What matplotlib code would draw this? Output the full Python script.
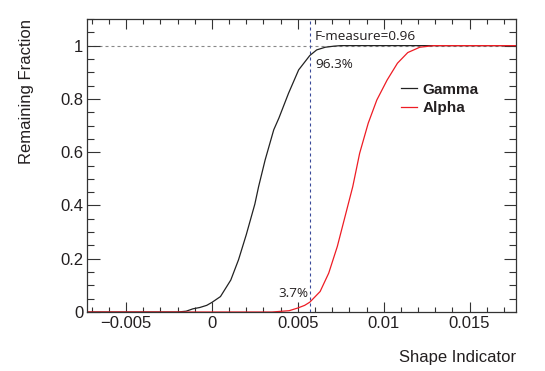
import numpy as np
import matplotlib
matplotlib.use("Agg")
import matplotlib.pyplot as plt
from matplotlib.ticker import MultipleLocator, FuncFormatter

# cumulative fraction curves
gamma_x = [-0.00725, -0.0020, -0.0015, -0.0011, -0.0007, -0.0003, 0.0, 0.0005,
           0.0011, 0.00155, 0.0020, 0.0025, 0.00272, 0.0031, 0.0036, 0.0039,
           0.00446, 0.00505, 0.0057, 0.0061, 0.0066, 0.0071, 0.0075, 0.0177]
gamma_y = [0.0, 0.0, 0.003, 0.012, 0.017, 0.025, 0.036, 0.058,
           0.12, 0.196, 0.29, 0.405, 0.471, 0.571, 0.684, 0.728,
           0.821, 0.909, 0.963, 0.984, 0.994, 0.998, 1.0, 1.0]

alpha_x = [-0.00725, 0.0035, 0.0045, 0.0050, 0.0054, 0.0057, 0.0063, 0.0068,
           0.0073, 0.0077, 0.0082, 0.0086, 0.0091, 0.0096, 0.0102, 0.0108,
           0.0114, 0.0121, 0.0129, 0.0177]
alpha_y = [0.0, 0.0, 0.005, 0.015, 0.025, 0.037, 0.077, 0.146,
           0.246, 0.346, 0.471, 0.596, 0.709, 0.796, 0.871, 0.934,
           0.974, 0.994, 1.0, 1.0]

x_cut = 0.0057
f_measure = 0.96
gamma_kept = 96.3
alpha_kept = 3.7

x_ticks = [-0.005, 0, 0.005, 0.01, 0.015]
y_ticks = [0, 0.2, 0.4, 0.6, 0.8, 1.0]

plt.rcParams['font.family'] = ['Liberation Sans', 'DejaVu Sans']
txt_col = '#231f20'

fig = plt.figure(figsize=(5.45, 3.71), dpi=100)
ax = fig.add_axes([0.1602, 0.159, 0.7866, 0.7898])

ax.plot(gamma_x, gamma_y, color='#222222', lw=0.9, label='Gamma')
ax.plot(alpha_x, alpha_y, color='#ee1c24', lw=0.9, label='Alpha')

ax.axhline(1.0, color='#888888', lw=0.8, dashes=(2.7, 2.7), zorder=1)
ax.axvline(x_cut, color='#3a4a9a', lw=0.8, dashes=(2.7, 2.7), zorder=1)

ax.set_xlim(-0.00725, 0.0177)
ax.set_ylim(0, 1.1)

ax.set_xticks(x_ticks)
ax.set_yticks(y_ticks)
ax.xaxis.set_minor_locator(MultipleLocator(0.001))
ax.yaxis.set_minor_locator(MultipleLocator(0.05))
fmt = FuncFormatter(lambda v, p: ('%g' % v).replace('-', '\u2212'))
ax.xaxis.set_major_formatter(fmt)
ax.yaxis.set_major_formatter(fmt)

ax.tick_params(which='both', direction='in', top=True, right=True,
               colors='#333333', labelcolor=txt_col, labelsize=12, width=0.8)
ax.tick_params(axis='x', which='major', length=7.5, pad=3)
ax.tick_params(axis='x', which='minor', length=3.8)
ax.tick_params(axis='y', which='major', length=9, pad=3)
ax.tick_params(axis='y', which='minor', length=4.8)
for s in ax.spines.values():
    s.set_color('#333333')
    s.set_linewidth(0.9)

ax.set_xlabel('Shape Indicator', fontsize=12, color=txt_col, loc='right')
ax.xaxis.label.set_va('baseline')
ax.xaxis.set_label_coords(1.0, -0.171)
ax.set_ylabel('Remaining Fraction', fontsize=12, color=txt_col, loc='top')
ax.yaxis.set_label_coords(-0.125, 1.0)

ann = dict(fontsize=9.7, color=txt_col, family=['Open Sans', 'DejaVu Sans'])
ax.text(x_cut + 0.0003, 1.035, 'F-measure=%.2f' % f_measure, va='center', ha='left', **ann)
ax.text(x_cut + 0.0003, 0.93, '%.1f%%' % gamma_kept, va='center', ha='left', **ann)
ax.text(x_cut - 0.0001, 0.07, '%.1f%%' % alpha_kept, va='center', ha='right', **ann)

leg = ax.legend(loc='center left', bbox_to_anchor=(0.732, 0.727), frameon=False,
                prop={'weight': 'bold', 'size': 11}, handlelength=1.05,
                handletextpad=0.33, labelspacing=0.3, borderpad=0, borderaxespad=0)
for t in leg.get_texts():
    t.set_color(txt_col)

fig.savefig('out.png', dpi=100)
